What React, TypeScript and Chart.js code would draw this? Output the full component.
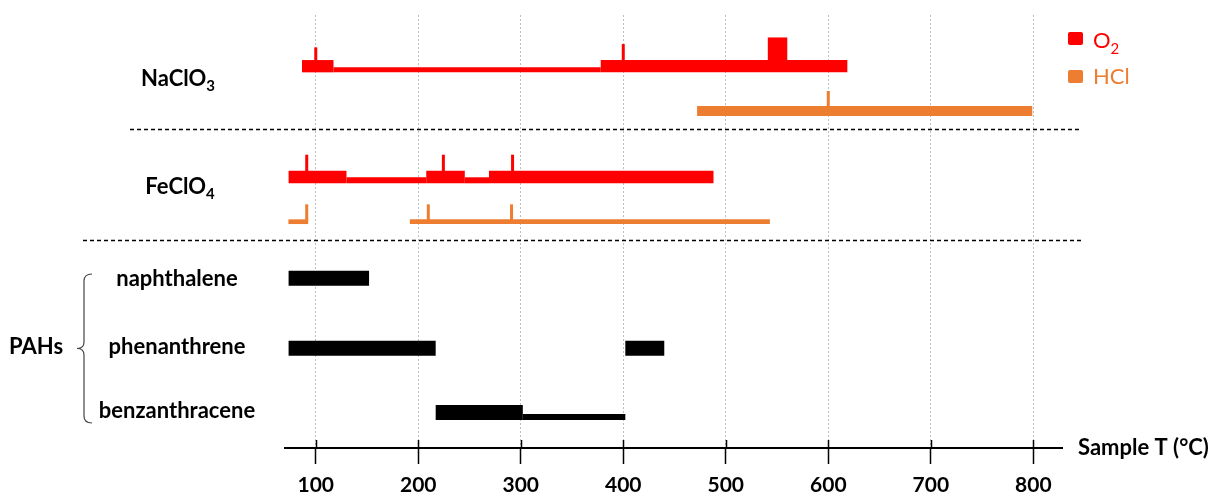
import React, { useEffect, useRef } from "react";
import { Chart, registerables } from "chart.js";

Chart.register(...registerables);

// ---------- data ----------
const xTickValues = [100, 200, 300, 400, 500, 600, 700, 800];
const xAxisTitle = "Sample T (°C)";
const seriesNames = ["O", "HCl"]; // O2 (subscript added when drawn)
const groupLabels = ["NaClO", "FeClO"]; // NaClO3, FeClO4
const groupSubs = ["3", "4"];
const pahLabels = ["naphthalene", "phenanthrene", "benzanthracene"];
const pahGroupLabel = "PAHs";

// NaClO3 – O2 release
const naO2Thick = [[86.6, 117.3], [378, 618.6]];
const naO2Thin = [[117.3, 378]];
const naO2Peak = [[541, 560]];
const naO2Ticks = [100, 400];
// NaClO3 – HCl release
const naHClThick = [[472, 799]];
const naHClTicks = [600];
// FeClO4 – O2 release
const feO2Thick = [[73.5, 130], [207.8, 245.4], [269, 488]];
const feO2Thin = [[130, 207.8], [245.4, 269]];
const feO2Ticks = [91.2, 224.5, 292];
// FeClO4 – HCl release
const feHClThin = [[73.3, 92.6], [191.8, 543]];
const feHClTicks = [91.2, 209.8, 291];
// PAHs
const naphThick = [[73.5, 152]];
const phenThick = [[73.5, 217], [402, 440]];
const benzThick = [[217, 302]];
const benzThin = [[302, 402]];

// row levels on the (hidden) vertical scale, 0 = top
const rowLevels = [5.12, 9.6, 16.2, 20.67, 26.32, 33.33, 39.75];

// ---------- style ----------
const RED = "#FF0000";
const ORANGE = "#ED7D31";
const BLACK = "#000000";
const X_MIN = 70;
const X_MAX = 828;
const Y_MAX = 43.3;
const PX = 10; // px per y unit

function seg(x0: number, x1: number, y: number, w: number, color: string) {
  return {
    type: "line" as const,
    data: [
      { x: x0, y },
      { x: x1, y },
    ],
    borderColor: color,
    backgroundColor: color,
    borderWidth: w,
    borderCapStyle: "butt" as const,
    pointRadius: 0,
    pointHoverRadius: 0,
    fill: false,
    tension: 0,
  };
}

function tickMark(x: number, yTop: number, lenPx: number, w: number, color: string) {
  return {
    type: "line" as const,
    data: [
      { x, y: yTop + 0.2 },
      { x, y: yTop - lenPx / PX },
    ],
    borderColor: color,
    borderWidth: w,
    borderCapStyle: "butt" as const,
    pointRadius: 0,
    pointHoverRadius: 0,
    fill: false,
  };
}

function buildDatasets() {
  const ds: any[] = [];
  const [rNaO2, rNaHCl, rFeO2, rFeHCl, rNaph, rPhen, rBenz] = rowLevels;
  // NaClO3 O2
  const naThick = 12.3, naThin = 5;
  naO2Thick.forEach(([a, b]) => ds.push(seg(a, b, rNaO2, naThick, RED)));
  naO2Thin.forEach(([a, b]) => ds.push(seg(a, b, rNaO2 + (naThick - naThin) / 2 / PX, naThin, RED)));
  naO2Peak.forEach(([a, b]) => ds.push(seg(a, b, rNaO2 - 1.7, 23.5, RED)));
  const naTop = rNaO2 - naThick / 2 / PX;
  ds.push(tickMark(naO2Ticks[0], naTop, 12.7, 3, RED));
  ds.push(tickMark(naO2Ticks[1], naTop, 16, 3, RED));
  // NaClO3 HCl
  naHClThick.forEach(([a, b]) => ds.push(seg(a, b, rNaHCl, 10, ORANGE)));
  naHClTicks.forEach((x) => ds.push(tickMark(x, rNaHCl - 0.5, 15, 3, ORANGE)));
  // FeClO4 O2
  const feThick = 12.6, feThin = 6;
  feO2Thick.forEach(([a, b]) => ds.push(seg(a, b, rFeO2, feThick, RED)));
  feO2Thin.forEach(([a, b]) => ds.push(seg(a, b, rFeO2 + (feThick - feThin) / 2 / PX, feThin, RED)));
  feO2Ticks.forEach((x) => ds.push(tickMark(x, rFeO2 - feThick / 2 / PX, 16, 3, RED)));
  // FeClO4 HCl
  feHClThin.forEach(([a, b]) => ds.push(seg(a, b, rFeHCl, 4.7, ORANGE)));
  feHClTicks.forEach((x) => ds.push(tickMark(x, rFeHCl - 0.235, 15, 3, ORANGE)));
  // PAHs
  const pThick = 15, pThin = 6;
  naphThick.forEach(([a, b]) => ds.push(seg(a, b, rNaph, pThick, BLACK)));
  phenThick.forEach(([a, b]) => ds.push(seg(a, b, rPhen, pThick, BLACK)));
  benzThick.forEach(([a, b]) => ds.push(seg(a, b, rBenz, pThick, BLACK)));
  benzThin.forEach(([a, b]) => ds.push(seg(a, b, rBenz + (pThick - pThin) / 2 / PX, pThin, BLACK)));
  return ds;
}

function drawWithSub(
  ctx: CanvasRenderingContext2D,
  cx: number,
  baseline: number,
  main: string,
  sub: string,
  font: string,
  subFont: string,
  subDrop: number,
  align: "center" | "left",
  color: string
) {
  ctx.save();
  ctx.fillStyle = color;
  ctx.textBaseline = "alphabetic";
  ctx.textAlign = "left";
  ctx.font = font;
  const w1 = ctx.measureText(main).width;
  ctx.font = subFont;
  const w2 = sub ? ctx.measureText(sub).width : 0;
  const x0 = align === "center" ? cx - (w1 + w2) / 2 : cx;
  ctx.font = font;
  ctx.fillText(main, x0, baseline);
  if (sub) {
    ctx.font = subFont;
    ctx.fillText(sub, x0 + w1, baseline + subDrop);
  }
  ctx.restore();
}

const decorPlugin = {
  id: "decor",
  afterDraw(chart: any) {
    const ctx: CanvasRenderingContext2D = chart.ctx;
    const xs = chart.scales.x;
    const area = chart.chartArea;
    const bold = "bold 22px Lato";
    const subBold = "bold 15px Lato";

    // tick marks above the axis line
    ctx.save();
    ctx.strokeStyle = "#000";
    ctx.lineWidth = 1.5;
    xTickValues.forEach((v) => {
      const px = Math.round(xs.getPixelForValue(v)) + 0.5;
      ctx.beginPath();
      ctx.moveTo(px, area.bottom - 8);
      ctx.lineTo(px, area.bottom);
      ctx.stroke();
    });
    ctx.restore();

    // dashed separators
    ctx.save();
    ctx.strokeStyle = "#000";
    ctx.lineWidth = 1.3;
    ctx.setLineDash([4, 3]);
    ctx.beginPath();
    ctx.moveTo(130, 129.5);
    ctx.lineTo(1080, 129.5);
    ctx.moveTo(83, 240.5);
    ctx.lineTo(1083, 240.5);
    ctx.stroke();
    ctx.restore();

    // group labels
    drawWithSub(ctx, 178, 86, groupLabels[0], groupSubs[0], bold, subBold, 5, "center", "#000");
    drawWithSub(ctx, 180, 194, groupLabels[1], groupSubs[1], bold, subBold, 5, "center", "#000");

    // PAH labels
    const pahBaselines = [286, 354, 418];
    pahLabels.forEach((t, i) => drawWithSub(ctx, 177, pahBaselines[i], t, "", bold, subBold, 0, "center", "#000"));
    drawWithSub(ctx, 9, 354, pahGroupLabel, "", bold, subBold, 0, "left", "#000");

    // brace
    ctx.save();
    ctx.strokeStyle = "#444";
    ctx.lineWidth = 1.2;
    ctx.beginPath();
    ctx.moveTo(92, 274);
    ctx.quadraticCurveTo(84, 274, 84, 281);
    ctx.lineTo(84, 342);
    ctx.quadraticCurveTo(84, 348.5, 77, 348.5);
    ctx.quadraticCurveTo(84, 348.5, 84, 355);
    ctx.lineTo(84, 416);
    ctx.quadraticCurveTo(84, 423, 92, 423);
    ctx.stroke();
    ctx.restore();

    // legend
    ctx.save();
    const sq = (y: number, c: string) => {
      ctx.fillStyle = c;
      ctx.beginPath();
      (ctx as any).roundRect(1068, y, 15, 13, 2);
      ctx.fill();
    };
    sq(32, RED);
    sq(70, ORANGE);
    ctx.restore();
    drawWithSub(ctx, 1093, 48, seriesNames[0], "2", "22px Lato", "15px Lato", 6, "left", RED);
    drawWithSub(ctx, 1093, 84, seriesNames[1], "", "22px Lato", "15px Lato", 0, "left", ORANGE);

    // axis title
    drawWithSub(ctx, 1078, 455, xAxisTitle, "", "bold 22px Lato", subBold, 0, "left", "#000");
  },
};

export default function App() {
  const ref = useRef<HTMLCanvasElement | null>(null);
  useEffect(() => {
    if (!ref.current) return;
    const chart = new Chart(ref.current, {
      type: "line",
      data: { datasets: buildDatasets() },
      plugins: [decorPlugin],
      options: {
        responsive: false,
        animation: false,
        devicePixelRatio: 1,
        layout: { padding: { left: 285, right: 153, top: 15, bottom: 0 } },
        plugins: { legend: { display: false }, tooltip: { enabled: false } },
        events: [],
        scales: {
          x: {
            type: "linear",
            min: X_MIN,
            max: X_MAX,
            afterFit: (s: any) => {
              s.height = 44;
            },
            afterBuildTicks: (s: any) => {
              s.ticks = xTickValues.map((v) => ({ value: v }));
            },
            ticks: {
              font: { family: "Lato", weight: "bold", size: 21 },
              color: "#000",
              padding: 9,
              maxRotation: 0,
              autoSkip: false,
            },
            grid: {
              color: "#bdbdbd",
              lineWidth: 1,
              drawTicks: true,
              tickLength: 16,
              tickColor: "#000",
              tickWidth: 1.5,
            },
            border: { display: true, color: "#000", width: 2, dash: [2, 2] },
          },
          y: {
            type: "linear",
            display: false,
            reverse: true,
            min: 0,
            max: Y_MAX,
          },
        },
      } as any,
    });
    return () => chart.destroy();
  }, []);
  return (
    <div style={{ position: "absolute", left: 0, top: 0, width: 1215, height: 492, background: "#fff" }}>
      <canvas ref={ref} width={1215} height={492} style={{ width: 1215, height: 492, display: "block" }} />
    </div>
  );
}
